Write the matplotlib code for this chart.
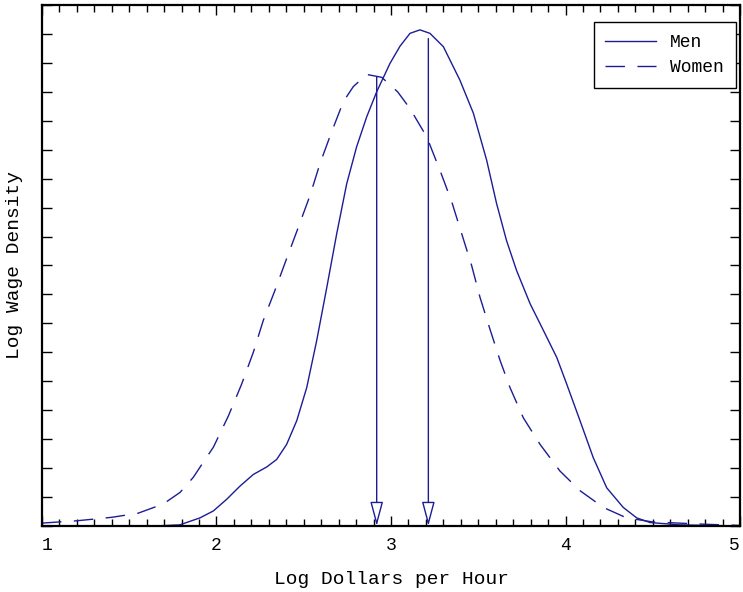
import numpy as np
import matplotlib.pyplot as plt
from matplotlib.ticker import MultipleLocator

# kernel density values
men_x = [1.0, 1.4, 1.65, 1.79, 1.905, 1.982, 2.058, 2.135, 2.211, 2.288, 2.345,
         2.402, 2.46, 2.517, 2.574, 2.632, 2.689, 2.746, 2.803, 2.861, 2.918,
         2.994, 3.052, 3.109, 3.166, 3.223, 3.3, 3.395, 3.472, 3.548, 3.605,
         3.662, 3.72, 3.797, 3.873, 3.95, 4.007, 4.083, 4.159, 4.236, 4.331,
         4.408, 4.484, 4.65, 5.0]
men_y = [0.0, 0.0, 0.0, 0.002, 0.014, 0.026, 0.046, 0.069, 0.089, 0.102, 0.115,
         0.141, 0.182, 0.239, 0.32, 0.412, 0.505, 0.591, 0.655, 0.707, 0.75,
         0.799, 0.829, 0.851, 0.857, 0.851, 0.828, 0.77, 0.713, 0.632, 0.557,
         0.493, 0.441, 0.384, 0.338, 0.291, 0.245, 0.182, 0.118, 0.066, 0.032,
         0.014, 0.006, 0.002, 0.0]

women_x = [1.0, 1.2, 1.4, 1.55, 1.695, 1.791, 1.867, 1.924, 1.982, 2.068, 2.144,
           2.211, 2.268, 2.335, 2.402, 2.469, 2.536, 2.593, 2.66, 2.727, 2.784,
           2.861, 2.947, 3.038, 3.109, 3.205, 3.281, 3.348, 3.405, 3.462, 3.51,
           3.567, 3.625, 3.682, 3.758, 3.854, 3.968, 4.083, 4.217, 4.35, 4.5,
           4.8, 5.0]
women_y = [0.005, 0.009, 0.015, 0.022, 0.038, 0.058, 0.084, 0.11, 0.136, 0.19, 0.245,
           0.3, 0.355, 0.407, 0.462, 0.516, 0.571, 0.626, 0.681, 0.733, 0.759,
           0.78, 0.775, 0.75, 0.721, 0.672, 0.614, 0.56, 0.505, 0.45, 0.395,
           0.34, 0.286, 0.239, 0.187, 0.141, 0.095, 0.061, 0.032, 0.014, 0.007,
           0.003, 0.001]

men_mean = 3.214
women_mean = 2.918
men_mean_top = 0.842
women_mean_top = 0.776

x_ticks = [1, 2, 3, 4, 5]
x_tick_labels = ['1', '2', '3', '4', '5']

color = '#1c1c96'
font = 'Liberation Mono'

fig = plt.figure(figsize=(7.43, 5.92), dpi=100)
ax = fig.add_axes([0.0565, 0.1115, 0.9395, 0.8801])

ax.plot(men_x, men_y, color=color, lw=1.0, label='Men')
ax.plot(women_x, women_y, color=color, lw=1.0, dashes=(14, 9), label='Women')

for m, top in [(women_mean, women_mean_top), (men_mean, men_mean_top)]:
    ax.annotate('', xy=(m, 0.0), xytext=(m, top),
                arrowprops=dict(arrowstyle='-|>,head_length=1.5,head_width=0.4',
                                color=color, fc='white', lw=1.0,
                                shrinkA=0, shrinkB=0, mutation_scale=10))

ax.set_xlim(1, 5)
ax.set_ylim(0, 0.9)
ax.set_xticks(x_ticks, x_tick_labels, fontsize=13, family=font)
ax.xaxis.set_minor_locator(MultipleLocator(0.1))
ax.yaxis.set_major_locator(MultipleLocator(0.05))
ax.tick_params(which='both', direction='in', top=True, right=True, width=1.0)
ax.tick_params(which='major', length=7)
ax.tick_params(which='minor', length=5)
ax.tick_params(axis='x', pad=8)
ax.tick_params(axis='y', labelleft=False)
xlabels = ax.get_xticklabels()
xlabels[0].set_horizontalalignment('left')
xlabels[-1].set_horizontalalignment('right')
for s in ax.spines.values():
    s.set_linewidth(1.6)

ax.set_xlabel('Log Dollars per Hour', fontsize=14, family=font, labelpad=12)
ax.set_ylabel('Log Wage Density', fontsize=14, family=font, labelpad=14)

leg = ax.legend(loc='upper right', bbox_to_anchor=(0.994, 0.967),
                borderaxespad=0.0, prop={'family': font, 'size': 13},
                fancybox=False, edgecolor='black', framealpha=1,
                handlelength=2.8, handletextpad=0.8, borderpad=0.65,
                labelspacing=0.45)
leg.get_frame().set_linewidth(1.0)

fig.savefig('out.png', dpi=100)
